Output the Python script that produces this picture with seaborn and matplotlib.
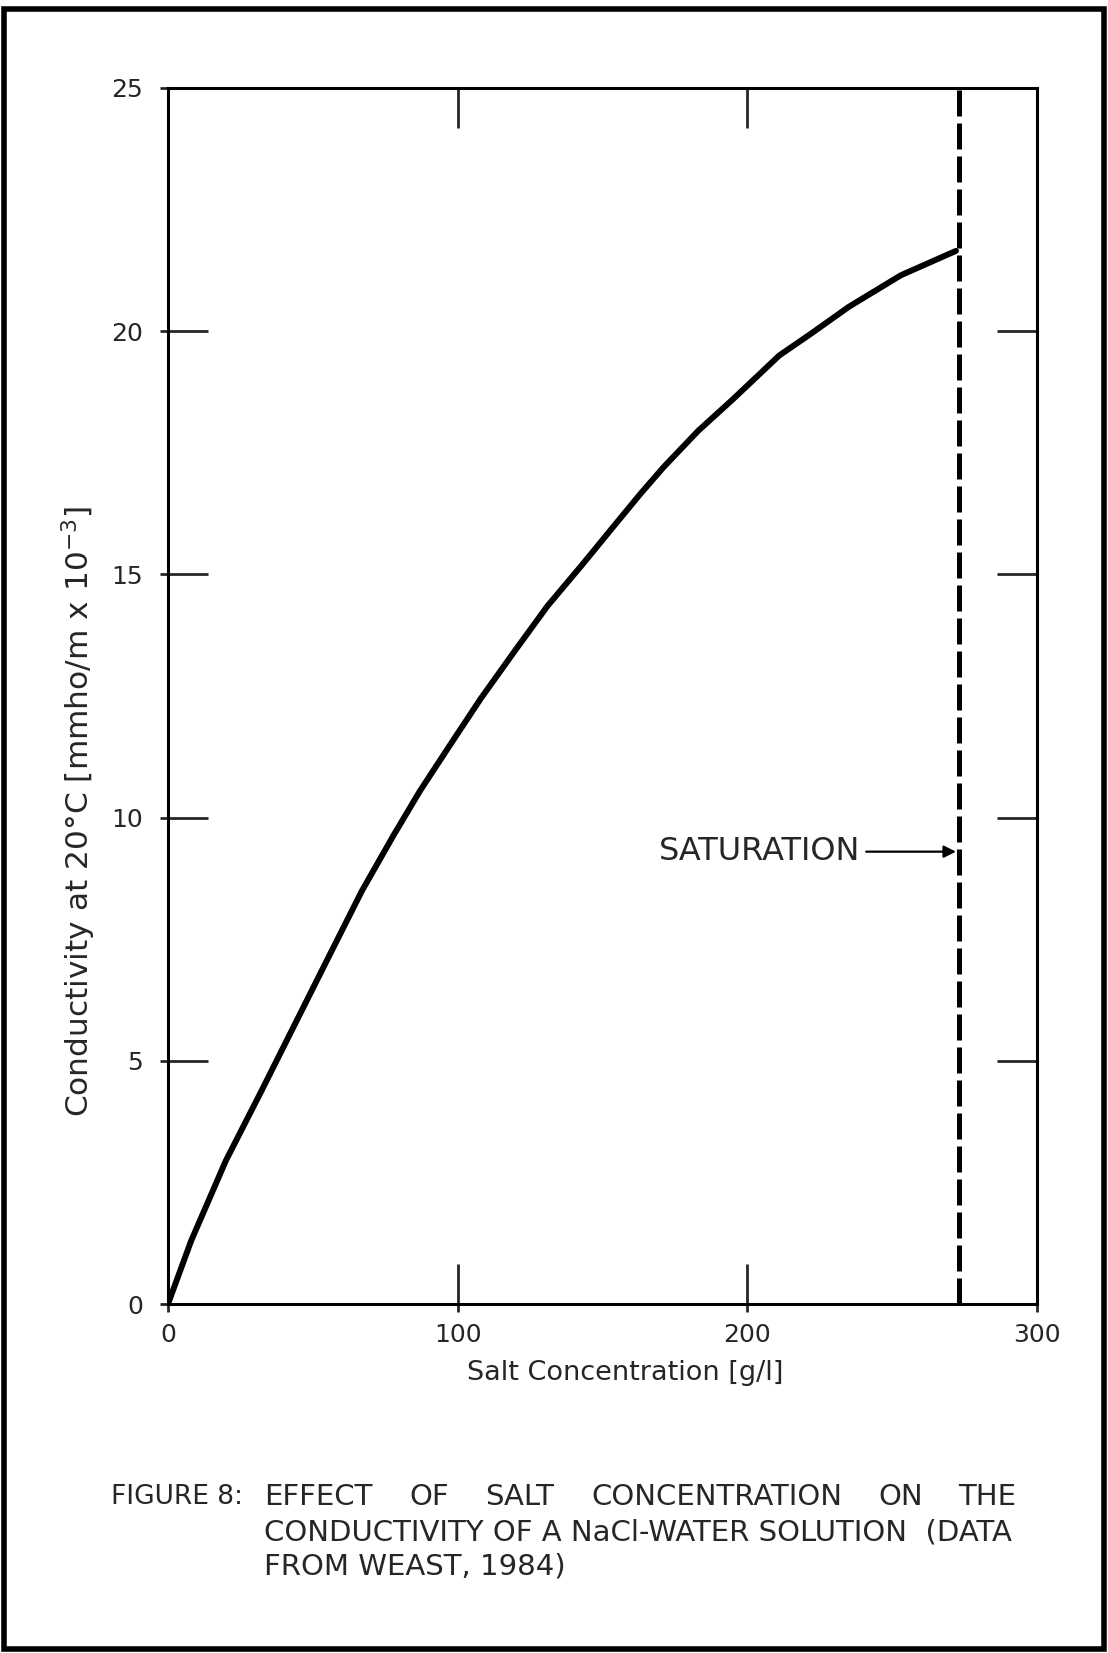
import matplotlib
matplotlib.use("Agg")
import matplotlib.pyplot as plt
import matplotlib.patches as patches
import seaborn as sns
import pandas as pd

# values
conc = [0, 8, 20, 32, 40, 48, 56, 67, 78, 87, 98, 108, 120, 131, 143, 154, 163, 171, 183,
        195, 211, 222, 235, 253, 272]
cond = [0, 1.3, 2.95, 4.35, 5.3, 6.25, 7.2, 8.5, 9.65, 10.55, 11.55, 12.45, 13.45, 14.35,
        15.2, 16.0, 16.65, 17.2, 17.95, 18.6, 19.5, 19.95, 20.5, 21.15, 21.65]
saturation = 273
sat_label_y = 9.3
x_ticks = [0, 100, 200, 300]
y_ticks = [0, 5, 10, 15, 20, 25]

df = pd.DataFrame({"conc": conc, "cond": cond})

sns.set_style("white")
plt.rcParams['font.family'] = ['DejaVu Sans']

fig = plt.figure(figsize=(11.08, 16.53), dpi=100)
ax = fig.add_axes([0.1516, 0.2111, 0.936 - 0.1516, 0.9468 - 0.2111])

sns.lineplot(ax=ax, data=df, x="conc", y="cond", color="black", lw=4.3,
             solid_capstyle="round", solid_joinstyle="round", sort=False)
ax.axvline(saturation, color="black", lw=3.6, ls=(0, (5.2, 1.4)))

ax.annotate("", xy=(saturation - 1, sat_label_y), xytext=(241, sat_label_y),
            arrowprops=dict(arrowstyle="-|>", color="black", lw=1.6,
                            mutation_scale=18, shrinkA=0, shrinkB=0))
ax.text(239, sat_label_y, "SATURATION", ha="right", va="center", fontsize=23)

ax.set_xlim(0, 300)
ax.set_ylim(0, 25)
ax.set_xticks(x_ticks)
ax.set_yticks(y_ticks)
ax.set_xticks(x_ticks, minor=True)
ax.set_yticks(y_ticks, minor=True)
ax.xaxis.remove_overlapping_locs = False
ax.yaxis.remove_overlapping_locs = False
ax.tick_params(which="major", direction="in", length=29, width=2, top=True, right=True,
               bottom=True, left=True, labelsize=18, pad=14)
ax.tick_params(which="minor", direction="out", length=6, width=2, top=False, right=False,
               bottom=True, left=True)
ax.tick_params(axis="y", which="major", pad=18)

for s in ax.spines.values():
    s.set_linewidth(2.2)
    s.set_color("black")

ax.set_xlabel("Salt Concentration [g/l]", fontsize=19.5)
ax.set_ylabel("Conductivity at 20°C [mmho/m x 10$^{-3}$]", fontsize=22.5)
ax.xaxis.set_label_coords(0.526, -0.046)
ax.yaxis.set_label_coords(-0.08, 0.405)

# caption
cap_kw = dict(fontsize=21, va="center", ha="left")
fig.text(111 / 1108, 1 - 1497 / 1653, "FIGURE 8:", fontsize=19, va="center", ha="left")
line1 = [("EFFECT", 264), ("OF", 409), ("SALT", 485), ("CONCENTRATION", 591),
         ("ON", 878), ("THE", 958)]
for w, xp in line1:
    fig.text(xp / 1108, 1 - 1497 / 1653, w, **cap_kw)
fig.text(264 / 1108, 1 - 1532 / 1653, "CONDUCTIVITY OF A NaCl-WATER SOLUTION  (DATA", **cap_kw)
fig.text(264 / 1108, 1 - 1566 / 1653, "FROM WEAST, 1984)", **cap_kw)

# page border
fig.patches.append(patches.Rectangle((4 / 1108, 1 - 1649 / 1653), 1100 / 1108, 1640 / 1653,
                                     transform=fig.transFigure, fill=False,
                                     edgecolor="black", lw=4))

fig.savefig("out.png", dpi=100, facecolor="white")
plt.close(fig)
